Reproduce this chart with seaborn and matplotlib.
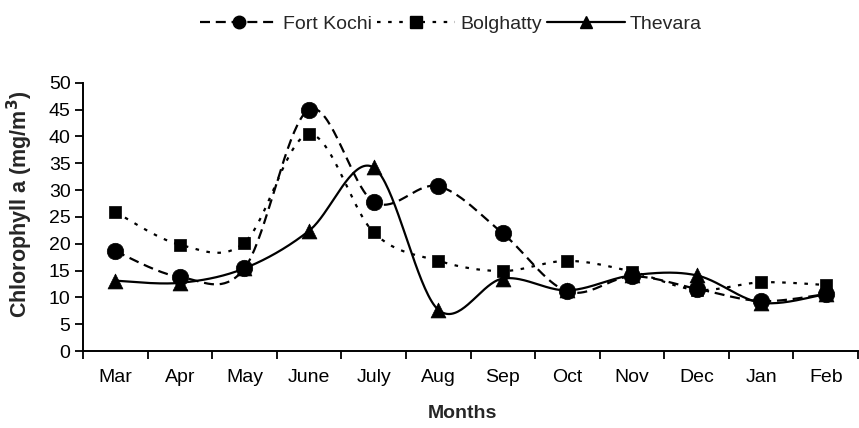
import numpy as np
import pandas as pd
import matplotlib
matplotlib.use("Agg")
import matplotlib.pyplot as plt
import seaborn as sns
from matplotlib.lines import Line2D

months = ["Mar", "Apr", "May", "June", "July", "Aug", "Sep", "Oct", "Nov", "Dec", "Jan", "Feb"]
fort_kochi = [18.6, 13.8, 15.4, 45.0, 27.8, 30.7, 21.9, 11.1, 13.9, 11.6, 9.3, 10.6]
bolghatty = [25.9, 19.8, 20.2, 40.4, 22.1, 16.8, 14.9, 16.8, 14.8, 11.4, 12.8, 12.3]
thevara = [13.1, 12.7, 15.4, 22.4, 34.2, 7.7, 13.5, 11.3, 14.1, 14.1, 9.0, 10.6]

sns.set_theme(style="white")
plt.rcParams["font.family"] = ["Liberation Sans", "DejaVu Sans"]

FS = 14


def smooth(xs, ys, n=40):
    """Cubic Bezier smoothing through every point (Catmull-Rom control points)."""
    pts = np.column_stack([xs, ys]).astype(float)
    ext = np.vstack([pts[0], pts, pts[-1]])
    out = []
    t = np.linspace(0, 1, n)[:, None]
    for i in range(len(pts) - 1):
        p0, p3 = ext[i + 1], ext[i + 2]
        c1 = p0 + (ext[i + 2] - ext[i]) / 6.0
        c2 = p3 - (ext[i + 3] - ext[i + 1]) / 6.0
        seg = (1 - t) ** 3 * p0 + 3 * (1 - t) ** 2 * t * c1 + 3 * (1 - t) * t ** 2 * c2 + t ** 3 * p3
        out.append(seg if i == 0 else seg[1:])
    seg = np.vstack(out)
    return seg[:, 0], seg[:, 1]


fig = plt.figure(figsize=(8.59, 4.28), dpi=100)
ax = fig.add_axes([83 / 859, 77 / 428, 775 / 859, (351 - 82.7) / 428])

x = np.arange(len(months))
series = [
    ("Fort Kochi", fort_kochi, (0, (4.5, 2.6)), "o", 140),
    ("Bolghatty", bolghatty, (0, (1.6, 3.4)), "s", 75),
    ("Thevara", thevara, "-", "^", 115),
]

handles = []
for name, vals, ls, mk, size in series:
    sx, sy = smooth(x, vals)
    sns.lineplot(x=sx, y=sy, ax=ax, color="black", linewidth=1.6,
                 linestyle=ls, sort=False, estimator=None)
    sns.scatterplot(x=x, y=vals, ax=ax, color="black", marker=mk, s=size,
                    edgecolor="black", linewidth=0.5, zorder=5)
    handles.append(Line2D([0], [0], color="black", linestyle=ls, linewidth=1.6,
                          marker=mk, markersize=9 if mk != "s" else 8, label=name))

ax.set_xlim(-0.5, len(months) - 0.5)
ax.set_ylim(0, 50)
ax.set_yticks(np.arange(0, 51, 5))
ax.set_xticks(x)
ax.set_xticklabels(months)
ax.set_xticks(np.arange(-0.5, len(months), 1), minor=True)
ax.tick_params(axis="x", which="major", length=0, pad=13, labelsize=FS, colors="black")
ax.tick_params(axis="x", which="minor", length=6, width=1.3, direction="out", bottom=True, color="black")
ax.tick_params(axis="y", length=6, width=1.3, direction="out", left=True, labelsize=FS, pad=3, colors="black")

for side in ["top", "right"]:
    ax.spines[side].set_visible(False)
for side in ["left", "bottom"]:
    ax.spines[side].set_color("black")
    ax.spines[side].set_linewidth(1.4)

ax.set_xlabel("Months", fontsize=FS, fontweight="bold")
ax.xaxis.set_label_coords(0.49, -0.20)
ax.set_ylabel("Chlorophyll a (mg/m$^\\mathbf{3}$)", fontsize=15.5, fontweight="bold")
ax.yaxis.set_label_coords(-0.062, 0.545)

fig.legend(handles=handles, loc="upper center", bbox_to_anchor=(0.525, 1.005), ncol=3,
           frameon=False, fontsize=FS, handlelength=4.0, handletextpad=0.25,
           columnspacing=0.3)

fig.savefig("out.png", dpi=100)
